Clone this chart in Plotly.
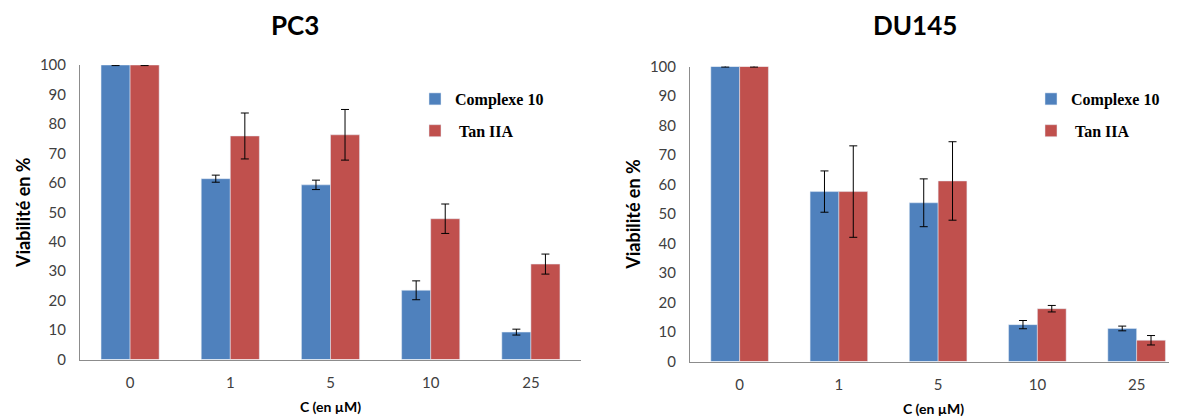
import plotly.graph_objects as go

categories = ["0", "1", "5", "10", "25"]

pc3_complexe = [100, 61.4, 59.3, 23.5, 9.3]
pc3_complexe_err = [0.2, 1.2, 1.6, 3.2, 1.0]
pc3_tan = [100, 75.9, 76.3, 47.8, 32.4]
pc3_tan_err = [0.2, 7.8, 8.6, 5.0, 3.4]

du_complexe = [100, 57.6, 53.8, 12.5, 11.2]
du_complexe_err = [0.2, 7.0, 8.1, 1.4, 0.8]
du_tan = [100, 57.6, 61.2, 17.9, 7.2]
du_tan_err = [0.2, 15.5, 13.3, 1.1, 1.6]

series_names = ["Complexe 10", "\u00a0Tan IIA"]
titles = ["PC3", "DU145"]
x_title = "C (en µM)"
y_title = "Viabilité en %"
y_ticks = list(range(0, 101, 10))

BLUE = "#4F81BD"
RED = "#C0504D"
OFF = 8  # default page body margin
W, H = 1177 - OFF, 419 - OFF


def px(x):
    return (x - OFF) / W


def py(y):
    return 1 - (y - OFF) / H


fig = go.Figure()


def err(vals):
    return dict(type="data", array=vals, visible=True, color="black", thickness=1, width=4)


fig.add_trace(go.Bar(x=categories, y=pc3_complexe, error_y=err(pc3_complexe_err), name=series_names[0],
                     marker_color=BLUE, xaxis="x", yaxis="y", legend="legend", legendgroup="a"))
fig.add_trace(go.Bar(x=categories, y=pc3_tan, error_y=err(pc3_tan_err), name=series_names[1],
                     marker_color=RED, xaxis="x", yaxis="y", legend="legend", legendgroup="b"))
fig.add_trace(go.Bar(x=categories, y=du_complexe, error_y=err(du_complexe_err), name=series_names[0],
                     marker_color=BLUE, xaxis="x2", yaxis="y2", legend="legend2", legendgroup="c"))
fig.add_trace(go.Bar(x=categories, y=du_tan, error_y=err(du_tan_err), name=series_names[1],
                     marker_color=RED, xaxis="x2", yaxis="y2", legend="legend2", legendgroup="d"))

tick_font = dict(family="Lato, Open Sans, sans-serif", size=15, color="#404040")
xtitle_font = dict(family="Lato, Open Sans, sans-serif", size=14, color="#000000")
ytitle_font = dict(family="Lato, Open Sans, sans-serif", size=18, color="#000000")
axis_col = "#8C8C8C"


def xaxis(dom, rng, anchor):
    return dict(domain=dom, range=rng, anchor=anchor, type="category", showline=True, linecolor=axis_col,
                linewidth=1, ticks="", showgrid=False, zeroline=False, tickfont=tick_font,
                ticklabelstandoff=9,
                title=dict(text="<b>" + x_title + "</b>", font=xtitle_font, standoff=12), automargin=False)


def yaxis(dom, anchor):
    return dict(domain=dom, range=[0, 100], anchor=anchor, showline=True, linecolor=axis_col, linewidth=1,
                ticks="", showgrid=False, zeroline=False, tickvals=y_ticks, tickfont=tick_font,
                ticklabelstandoff=10,
                title=dict(text="<b>" + y_title + "</b>", font=ytitle_font, standoff=4), automargin=False)


legend_font = dict(family="Liberation Serif, serif", size=16, color="#000", weight="bold")

fig.update_layout(
    width=W, height=H,
    margin=dict(l=0, r=0, t=0, b=0),
    plot_bgcolor="white", paper_bgcolor="white",
    barmode="group", bargap=0.42, bargroupgap=0,
    xaxis=xaxis([px(80), px(581)], [-0.5, 4.5], "y"),
    yaxis=yaxis([py(359.5), py(65)], "x"),
    xaxis2=xaxis([px(690), 1.0], [-0.5, -0.5 + (1177 - 690) / 99.25], "y2"),
    yaxis2=yaxis([py(361.5), py(66.5)], "x2"),
    legend=dict(x=px(415), y=py(82), xanchor="left", yanchor="top", bgcolor="rgba(0,0,0,0)",
                font=legend_font, tracegroupgap=8, traceorder="grouped", itemwidth=30),
    legend2=dict(x=px(1031), y=py(82), xanchor="left", yanchor="top", bgcolor="rgba(0,0,0,0)",
                 font=legend_font, tracegroupgap=8, traceorder="grouped", itemwidth=30),
    annotations=[
        dict(text="<b>" + titles[0] + "</b>", x=px(295), y=py(25), xref="paper", yref="paper",
             xanchor="center", yanchor="middle", showarrow=False,
             font=dict(family="Lato, sans-serif", size=26, color="#000")),
        dict(text="<b>" + titles[1] + "</b>", x=px(915), y=py(25), xref="paper", yref="paper",
             xanchor="center", yanchor="middle", showarrow=False,
             font=dict(family="Lato, sans-serif", size=26, color="#000")),
    ],
)

fig.write_html("out.html")
